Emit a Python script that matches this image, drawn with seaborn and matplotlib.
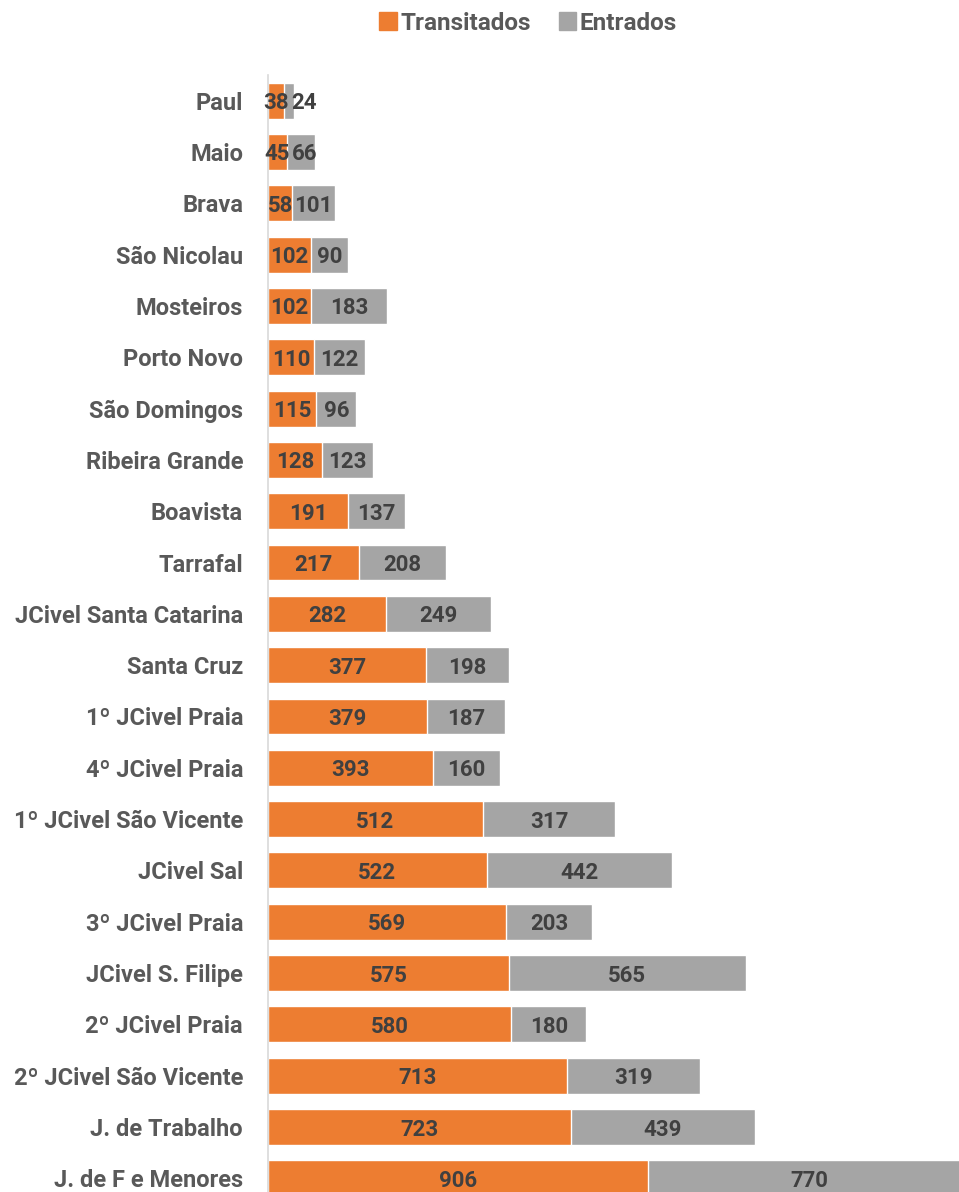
import matplotlib
matplotlib.use("Agg")
import matplotlib.pyplot as plt
import seaborn as sns
import pandas as pd
from matplotlib.patches import Patch

categories = ["Paul", "Maio", "Brava", "São Nicolau", "Mosteiros", "Porto Novo",
              "São Domingos", "Ribeira Grande", "Boavista", "Tarrafal",
              "JCivel Santa Catarina", "Santa Cruz", "1º JCivel Praia", "4º JCivel Praia",
              "1º JCivel São Vicente", "JCivel Sal", "3º JCivel Praia", "JCivel S. Filipe",
              "2º JCivel Praia", "2º JCivel São Vicente", "J. de Trabalho", "J. de F e Menores"]
transitados = [38, 45, 58, 102, 102, 110, 115, 128, 191, 217, 282, 377, 379, 393,
               512, 522, 569, 575, 580, 713, 723, 906]
entrados = [24, 66, 101, 90, 183, 122, 96, 123, 137, 208, 249, 198, 187, 160,
            317, 442, 203, 565, 180, 319, 439, 770]

ORANGE = "#ED7D31"
GRAY = "#A5A5A5"
LABEL = "#404040"
TICK = "#595959"

sns.set_theme(style="white")
plt.rcParams["font.family"] = ["Roboto", "DejaVu Sans"]

df = pd.DataFrame({"cat": categories, "T": transitados, "E": entrados})
df["total"] = df["T"] + df["E"]

fig = plt.figure(figsize=(9.59, 11.92), dpi=100)
ax = fig.add_axes([268 / 959, (1192 - 1204) / 1192, 691 / 959, (1204 - 75) / 1192])

sns.barplot(data=df, y="cat", x="total", color=GRAY, orient="h", width=0.7,
            saturation=1, ax=ax, order=categories)
sns.barplot(data=df, y="cat", x="T", color=ORANGE, orient="h", width=0.7,
            saturation=1, ax=ax, order=categories)

ax.set_xlim(0, 1649)
ax.set_ylim(len(categories) - 0.5, -0.5)
ax.set_xlabel("")
ax.set_ylabel("")
ax.set_xticks([])
for s in ["top", "right", "bottom"]:
    ax.spines[s].set_visible(False)
ax.spines["left"].set_color("#D9D9D9")
ax.spines["left"].set_linewidth(1.2)
ax.tick_params(axis="y", length=0, pad=18, labelsize=17, labelcolor=TICK)
for lbl in ax.get_yticklabels():
    lbl.set_fontweight("bold")

for i, (t, e) in enumerate(zip(transitados, entrados)):
    ax.text(t / 2, i, str(t), ha="center", va="center_baseline", fontsize=16,
            fontweight="bold", color=LABEL)
    off = 11 if e < 30 else (2.5 if e < 70 else 0)
    ax.annotate(str(e), xy=(t + e / 2, i), xytext=(off, 0), textcoords="offset points",
                ha="center", va="center_baseline", fontsize=16, fontweight="bold",
                color=LABEL)

handles = [Patch(color=ORANGE, label="Transitados"), Patch(color=GRAY, label="Entrados")]
fig.legend(handles=handles, loc="center", bbox_to_anchor=(528 / 959, 1 - 23 / 1192), ncol=2,
           frameon=False, handlelength=0.7, handleheight=0.7,
           handletextpad=0.15, columnspacing=1.15,
           prop={"weight": "bold", "size": 17.5})
for txt in fig.legends[0].get_texts():
    txt.set_color(TICK)

fig.savefig("out.png", dpi=100)
